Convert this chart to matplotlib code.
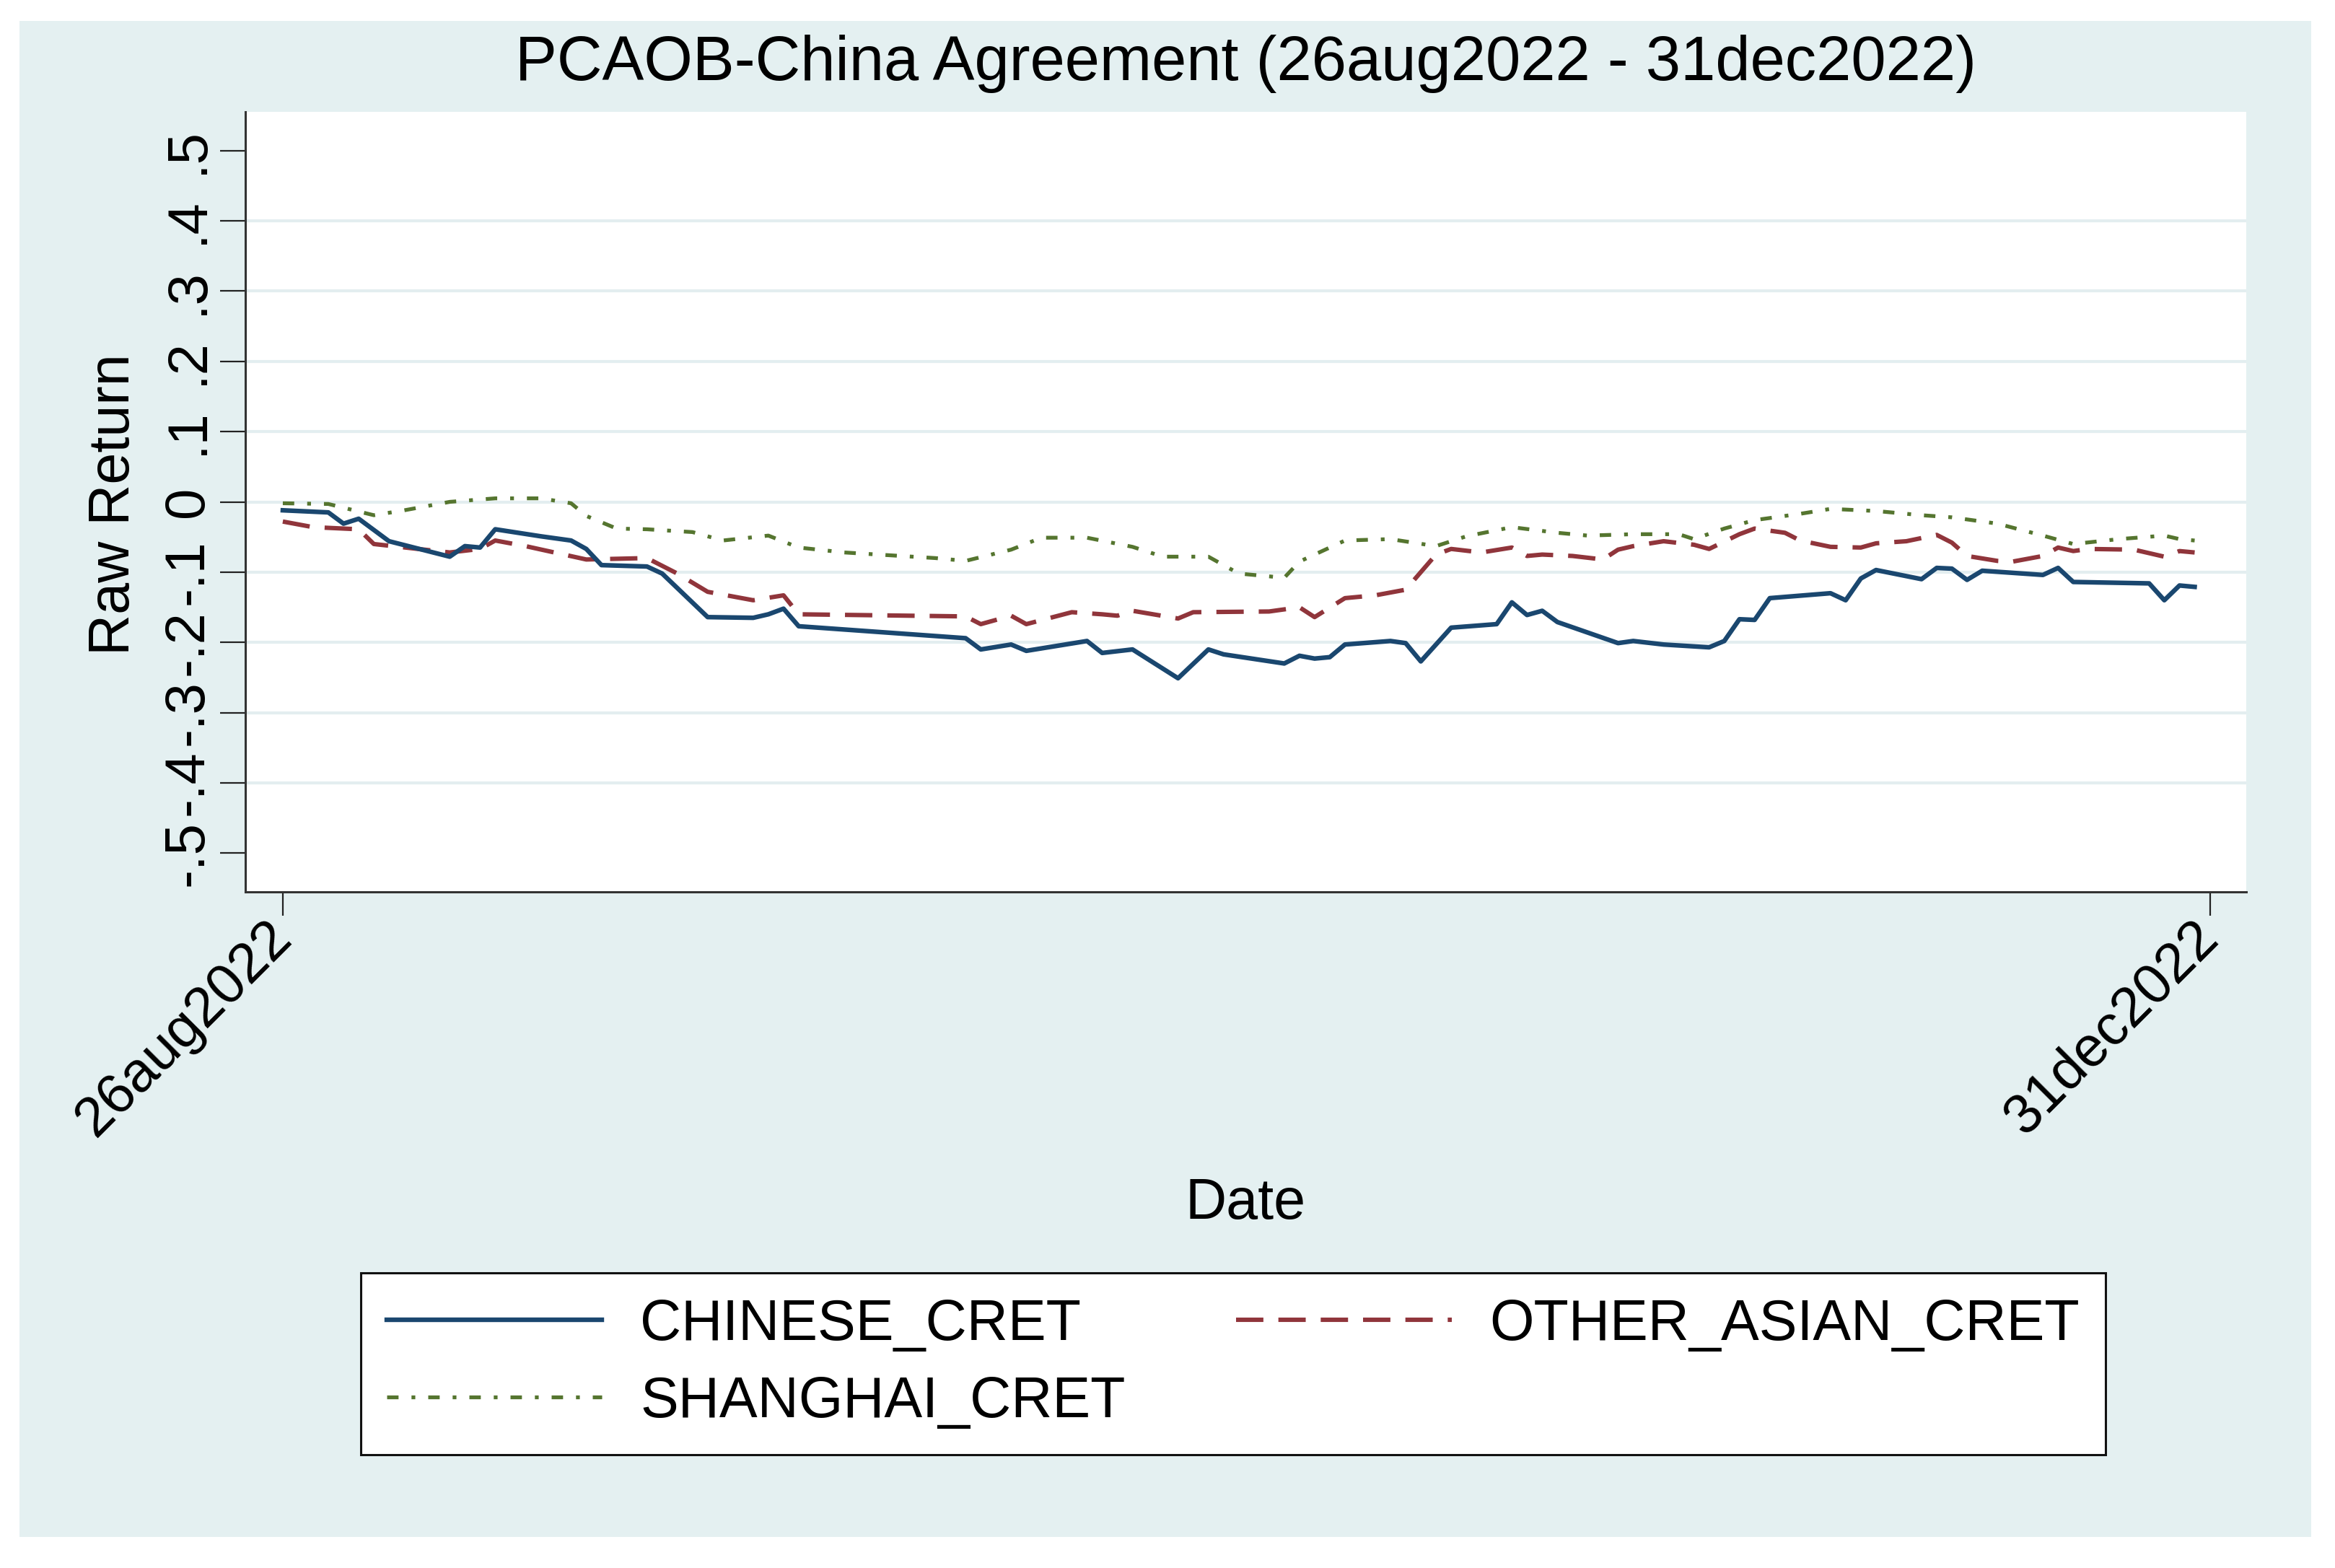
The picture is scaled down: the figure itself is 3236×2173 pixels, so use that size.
import matplotlib
matplotlib.use('Agg')
import matplotlib.pyplot as plt
import matplotlib.transforms as mtransforms
from matplotlib.patches import Rectangle
import numpy as np
import pandas as pd

plt.rcParams['font.family'] = ['Liberation Sans', 'DejaVu Sans']

# ---------------- data ----------------
title = "PCAOB-China Agreement (26aug2022 - 31dec2022)"
y_label = "Raw Return"
x_label = "Date"
series_names = ["CHINESE_CRET", "OTHER_ASIAN_CRET", "SHANGHAI_CRET"]

chinese_dates = ["2022-08-26", "2022-08-29", "2022-08-30", "2022-08-31", "2022-09-02", "2022-09-06",
                 "2022-09-07", "2022-09-08", "2022-09-09", "2022-09-12", "2022-09-14", "2022-09-15",
                 "2022-09-16", "2022-09-19", "2022-09-20", "2022-09-23", "2022-09-26", "2022-09-27",
                 "2022-09-28", "2022-09-29", "2022-10-10", "2022-10-11", "2022-10-13", "2022-10-14",
                 "2022-10-18", "2022-10-19", "2022-10-21", "2022-10-24", "2022-10-26", "2022-10-27",
                 "2022-10-31", "2022-11-01", "2022-11-02", "2022-11-03", "2022-11-04", "2022-11-07",
                 "2022-11-08", "2022-11-09", "2022-11-11", "2022-11-14", "2022-11-15", "2022-11-16",
                 "2022-11-17", "2022-11-18", "2022-11-22", "2022-11-23", "2022-11-25", "2022-11-28",
                 "2022-11-29", "2022-11-30", "2022-12-01", "2022-12-02", "2022-12-06", "2022-12-07",
                 "2022-12-08", "2022-12-09", "2022-12-12", "2022-12-13", "2022-12-14", "2022-12-15",
                 "2022-12-16", "2022-12-20", "2022-12-21", "2022-12-22", "2022-12-27", "2022-12-28",
                 "2022-12-29", "2022-12-30"]
chinese_cret = [-0.012, -0.015, -0.031, -0.024, -0.056, -0.078,
                -0.063, -0.065, -0.039, -0.049, -0.055, -0.067,
                -0.090, -0.092, -0.102, -0.164, -0.165, -0.160,
                -0.152, -0.177, -0.194, -0.210, -0.203, -0.212,
                -0.198, -0.215, -0.210, -0.251, -0.210, -0.217,
                -0.230, -0.219, -0.223, -0.221, -0.203, -0.198,
                -0.201, -0.227, -0.179, -0.174, -0.143, -0.161,
                -0.155, -0.171, -0.201, -0.198, -0.203, -0.207,
                -0.198, -0.167, -0.168, -0.137, -0.130, -0.140,
                -0.109, -0.097, -0.110, -0.094, -0.095, -0.111,
                -0.098, -0.104, -0.094, -0.114, -0.116, -0.140,
                -0.119, -0.121]

other_asian_dates = ["2022-08-26", "2022-08-28", "2022-08-31", "2022-09-01", "2022-09-06", "2022-09-08",
                     "2022-09-09", "2022-09-11", "2022-09-15", "2022-09-19", "2022-09-21", "2022-09-23",
                     "2022-09-26", "2022-09-28", "2022-09-29", "2022-10-10", "2022-10-11", "2022-10-13",
                     "2022-10-14", "2022-10-17", "2022-10-19", "2022-10-20", "2022-10-21", "2022-10-24",
                     "2022-10-25", "2022-10-30", "2022-11-01", "2022-11-02", "2022-11-04", "2022-11-06",
                     "2022-11-08", "2022-11-10", "2022-11-11", "2022-11-13", "2022-11-15", "2022-11-16",
                     "2022-11-17", "2022-11-19", "2022-11-21", "2022-11-22", "2022-11-23", "2022-11-25",
                     "2022-11-27", "2022-11-28", "2022-11-30", "2022-12-01", "2022-12-03", "2022-12-04",
                     "2022-12-06", "2022-12-08", "2022-12-09", "2022-12-11", "2022-12-13", "2022-12-14",
                     "2022-12-15", "2022-12-17", "2022-12-18", "2022-12-20", "2022-12-21", "2022-12-22",
                     "2022-12-23", "2022-12-26", "2022-12-28", "2022-12-29", "2022-12-30"]
other_asian_cret = [-0.028, -0.036, -0.039, -0.060, -0.072, -0.067,
                    -0.055, -0.063, -0.082, -0.080, -0.102, -0.128,
                    -0.140, -0.133, -0.160, -0.163, -0.174, -0.162,
                    -0.174, -0.157, -0.160, -0.162, -0.155, -0.166,
                    -0.157, -0.156, -0.150, -0.164, -0.137, -0.133,
                    -0.125, -0.075, -0.067, -0.072, -0.065, -0.077,
                    -0.075, -0.077, -0.082, -0.068, -0.063, -0.056,
                    -0.061, -0.067, -0.046, -0.038, -0.044, -0.055,
                    -0.064, -0.065, -0.059, -0.056, -0.047, -0.058,
                    -0.077, -0.084, -0.085, -0.077, -0.065, -0.070,
                    -0.067, -0.068, -0.078, -0.070, -0.072]

shanghai_dates = ["2022-08-26", "2022-08-29", "2022-09-01", "2022-09-03", "2022-09-06", "2022-09-09",
                  "2022-09-12", "2022-09-14", "2022-09-15", "2022-09-17", "2022-09-19", "2022-09-22",
                  "2022-09-24", "2022-09-27", "2022-09-29", "2022-10-02", "2022-10-05", "2022-10-08",
                  "2022-10-10", "2022-10-13", "2022-10-15", "2022-10-18", "2022-10-21", "2022-10-23",
                  "2022-10-26", "2022-10-28", "2022-10-31", "2022-11-01", "2022-11-02", "2022-11-04",
                  "2022-11-07", "2022-11-10", "2022-11-12", "2022-11-15", "2022-11-18", "2022-11-20",
                  "2022-11-23", "2022-11-26", "2022-11-27", "2022-11-29", "2022-12-01", "2022-12-04",
                  "2022-12-06", "2022-12-09", "2022-12-12", "2022-12-14", "2022-12-17", "2022-12-20",
                  "2022-12-22", "2022-12-25", "2022-12-28", "2022-12-29", "2022-12-30"]
shanghai_cret = [-0.002, -0.003, -0.019, -0.012, 0.000, 0.005,
                 0.005, -0.002, -0.020, -0.038, -0.039, -0.043,
                 -0.055, -0.048, -0.065, -0.072, -0.076, -0.080,
                 -0.084, -0.068, -0.051, -0.051, -0.064, -0.078,
                 -0.078, -0.102, -0.108, -0.085, -0.075, -0.055,
                 -0.053, -0.063, -0.049, -0.036, -0.044, -0.048,
                 -0.046, -0.046, -0.053, -0.038, -0.026, -0.017,
                 -0.010, -0.013, -0.019, -0.022, -0.031, -0.048,
                 -0.060, -0.053, -0.048, -0.053, -0.055]

x_tick_dates = ["2022-08-26", "2022-12-31"]
x_tick_labels = ["26aug2022", "31dec2022"]
y_ticks = [-0.5, -0.4, -0.3, -0.2, -0.1, 0.0, 0.1, 0.2, 0.3, 0.4, 0.5]
y_tick_labels = ["-.5", "-.4", "-.3", "-.2", "-.1", "0", ".1", ".2", ".3", ".4", ".5"]

# ---------------- figure ----------------
W, H, DPI = 3237, 2173, 100
fig = plt.figure(figsize=(W / DPI, H / DPI), dpi=DPI, facecolor='white')
fig.patches.append(Rectangle((27 / W, 1 - 2130 / H), (3203 - 27) / W, (2130 - 29) / H,
                             transform=fig.transFigure, facecolor='#E4F0F1',
                             edgecolor='none', zorder=-10))

ax = fig.add_axes([340 / W, 1 - 1236 / H, (3113 - 340) / W, (1236 - 155) / H])
ax.set_zorder(1)
ax.set_facecolor('white')

navy = '#1A476F'
maroon = '#90353B'
green = '#55752F'

l1, = ax.plot(pd.to_datetime(chinese_dates), chinese_cret, color=navy, lw=4.6,
              solid_joinstyle='round', label=series_names[0], zorder=4)
l2, = ax.plot(pd.to_datetime(other_asian_dates), other_asian_cret, color=maroon, lw=4.4,
              dashes=(6.2, 3.4), label=series_names[1], zorder=3)
l3, = ax.plot(pd.to_datetime(shanghai_dates), shanghai_cret, color=green, lw=3.8,
              dashes=(3.0, 3.4, 1.0, 3.4), label=series_names[2], zorder=2)

start = pd.Timestamp(x_tick_dates[0])
ax.set_xlim(start - pd.Timedelta(days=2.47), start + pd.Timedelta(days=129.4))
ax.set_ylim(-0.555, 0.555)

ax.set_yticks(y_ticks)
ax.set_yticklabels(y_tick_labels, fontsize=56, rotation=90)
for lbl in ax.get_yticklabels():
    lbl.set_va('center')
    lbl.set_ha('right')

ax.set_xticks(pd.to_datetime(x_tick_dates))
ax.set_xticklabels(x_tick_labels, fontsize=56, rotation=45, ha='right', va='center',
                   rotation_mode='anchor')
offset = mtransforms.ScaledTranslation(10 / DPI, 0, fig.dpi_scale_trans)
for lbl in ax.get_xticklabels():
    lbl.set_transform(lbl.get_transform() + offset)

ax.tick_params(axis='y', length=25, width=1.6, color='#222222', pad=6)
ax.tick_params(axis='x', length=24, width=1.6, color='#222222', pad=14)

ax.yaxis.grid(True, color='#E3EEF0', lw=3.0, zorder=0)
ax.set_axisbelow(True)
glines = ax.get_ygridlines()
glines[0].set_visible(False)
glines[-1].set_visible(False)

for s in ['top', 'right']:
    ax.spines[s].set_visible(False)
for s in ['left', 'bottom']:
    ax.spines[s].set_color('#333333')
    ax.spines[s].set_linewidth(2.2)

ax.set_ylabel(y_label, fontsize=57, va='center', ha='center')
ax.yaxis.set_label_coords((159 - 340) / (3113 - 340), (1236 - 699) / (1236 - 155))
ax.set_xlabel(x_label, fontsize=57, va='center', ha='center')
ax.xaxis.set_label_coords(0.5, (1236 - 1668) / (1236 - 155))

ax.set_title(title, fontsize=62.5, y=(1236 - 97) / (1236 - 155), va='center')

leg = fig.legend([l1, l3, l2], [series_names[0], series_names[2], series_names[1]],
                 loc='center left', bbox_to_anchor=(500 / W, 1 - 1890 / H), ncol=2,
                 fontsize=57, frameon=True, fancybox=False, shadow=False,
                 handlelength=3.77, handletextpad=0.67, columnspacing=1.94,
                 borderpad=0.45, labelspacing=0.4, borderaxespad=0)
leg.get_frame().set_edgecolor('#111111')
leg.get_frame().set_linewidth(2.2)
leg.get_frame().set_facecolor('white')
leg.get_frame().set_alpha(1.0)

fig.savefig('out.png', dpi=DPI, facecolor='white')
